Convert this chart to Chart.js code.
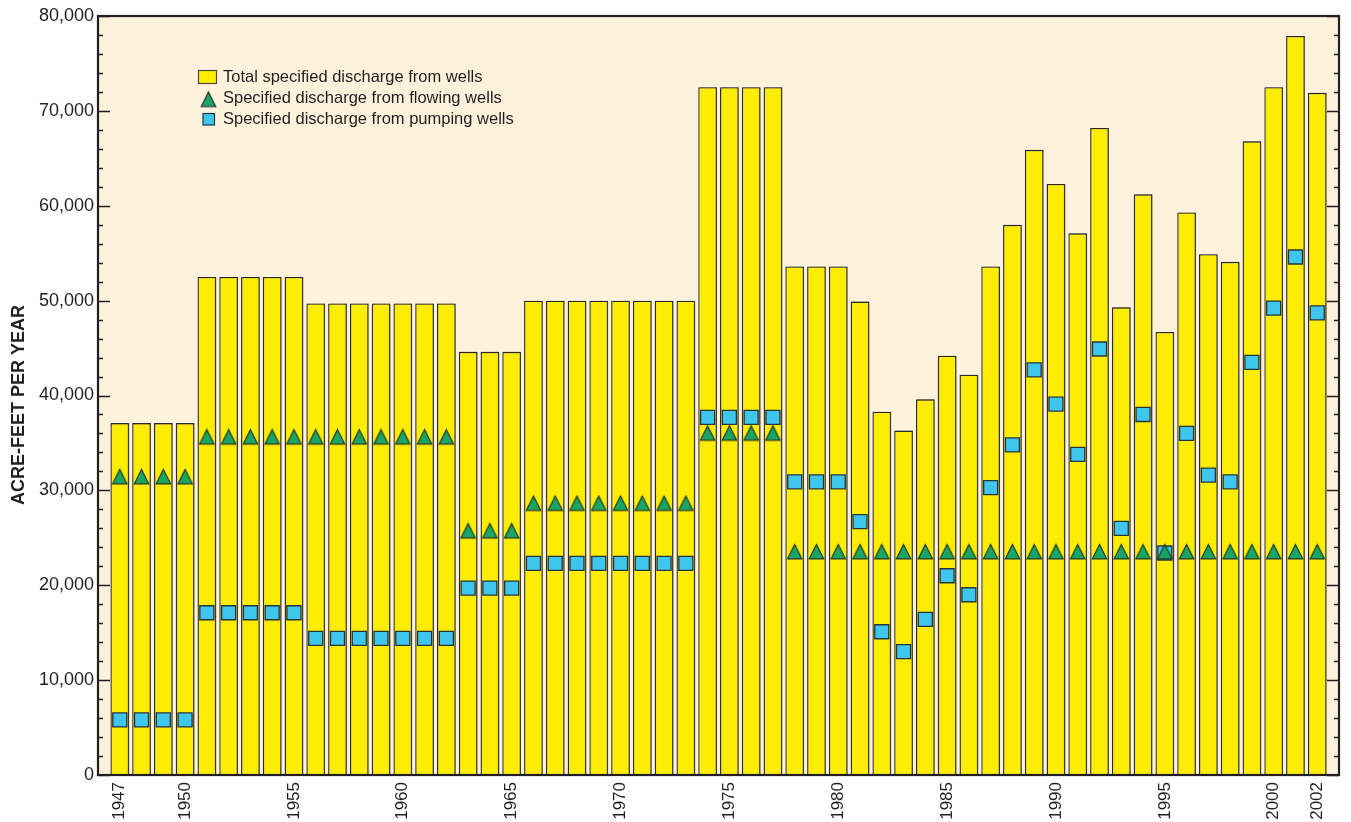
<!DOCTYPE html>
<html>
<head>
<meta charset="utf-8">
<title>Specified discharge from wells, 1947–2002</title>
<script src="https://cdn.jsdelivr.net/npm/chart.js@4.4.1/dist/chart.umd.min.js"></script>
<style>
  html, body { margin: 0; padding: 0; background: #ffffff; }
  #wrap { width: 1351px; height: 822px; position: relative; }
</style>
</head>
<body>
<div id="wrap"><canvas id="chart"></canvas></div>
<script>
// Year of each bar
const years = [
  1947, 1948, 1949, 1950, 1951, 1952, 1953, 1954, 1955, 1956,
  1957, 1958, 1959, 1960, 1961, 1962, 1963, 1964, 1965, 1966,
  1967, 1968, 1969, 1970, 1971, 1972, 1973, 1974, 1975, 1976,
  1977, 1978, 1979, 1980, 1981, 1982, 1983, 1984, 1985, 1986,
  1987, 1988, 1989, 1990, 1991, 1992, 1993, 1994, 1995, 1996,
  1997, 1998, 1999, 2000, 2001, 2002
];

// Total specified discharge from wells (acre-feet per year)
const totalDischarge = [
  37100, 37100, 37100, 37100, 52500, 52500, 52500, 52500, 52500, 49700,
  49700, 49700, 49700, 49700, 49700, 49700, 44600, 44600, 44600, 50000,
  50000, 50000, 50000, 50000, 50000, 50000, 50000, 72500, 72500, 72500,
  72500, 53600, 53600, 53600, 49900, 38300, 36300, 39600, 44200, 42200,
  53600, 58000, 65900, 62300, 57100, 68200, 49300, 61200, 46700, 59300,
  54900, 54100, 66800, 72500, 77900, 71900
];

// Specified discharge from flowing wells
const flowingDischarge = [
  31200, 31200, 31200, 31200, 35400, 35400, 35400, 35400, 35400, 35400,
  35400, 35400, 35400, 35400, 35400, 35400, 25500, 25500, 25500, 28400,
  28400, 28400, 28400, 28400, 28400, 28400, 28400, 35800, 35800, 35800,
  35800, 23300, 23300, 23300, 23300, 23300, 23300, 23300, 23300, 23300,
  23300, 23300, 23300, 23300, 23300, 23300, 23300, 23300, 23300, 23300,
  23300, 23300, 23300, 23300, 23300, 23300
];

// Specified discharge from pumping wells
const pumpingDischarge = [
  5800, 5800, 5800, 5800, 17100, 17100, 17100, 17100, 17100, 14400,
  14400, 14400, 14400, 14400, 14400, 14400, 19700, 19700, 19700, 22300,
  22300, 22300, 22300, 22300, 22300, 22300, 22300, 37700, 37700, 37700,
  37700, 30900, 30900, 30900, 26700, 15100, 13000, 16400, 21000, 19000,
  30300, 34800, 42700, 39100, 33800, 44900, 26000, 38000, 23400, 36000,
  31600, 30900, 43500, 49200, 54600, 48700
];

// Labelled years along the bottom axis
const yearTicks = [1947, 1950, 1955, 1960, 1965, 1970, 1975, 1980, 1985, 1990, 1995, 2000, 2002];

// Value axis
const yMin = 0;
const yMax = 80000;
const yMajorStep = 10000;
const yMinorStep = 2000;

const FONT = "'Liberation Sans', Arial, Helvetica, sans-serif";
const INK = '#231f20';
const YELLOW = '#FFED00';
const CYAN = '#3EC6EE';
const GREEN = '#1AA564';
const CREAM = '#FEF2DC';

// Triangle marker image; its centroid sits at the image centre
function makeTriangle() {
  const c = document.createElement('canvas');
  c.width = 17; c.height = 22;
  const g = c.getContext('2d');
  const top = 1.4, h = 14.4, half = 7.2, cx = 8.5;
  g.beginPath();
  g.moveTo(cx, top);
  g.lineTo(cx + half, top + h);
  g.lineTo(cx - half, top + h);
  g.closePath();
  g.fillStyle = GREEN;
  g.fill();
  g.lineWidth = 1.2;
  g.lineJoin = 'miter';
  g.strokeStyle = '#22352b';
  g.stroke();
  return c;
}
const triangleMark = makeTriangle();

const toPoints = vals => years.map((yr, i) => ({ x: yr, y: vals[i] }));

// Cream plot background
const plotBackground = {
  id: 'plotBackground',
  beforeDraw(chart) {
    const { ctx, chartArea: a } = chart;
    ctx.save();
    ctx.fillStyle = CREAM;
    ctx.fillRect(a.left, a.top, a.right - a.left, a.bottom - a.top);
    ctx.restore();
  }
};

// Thin grey edge to the right of each bar
const barShade = {
  id: 'barShade',
  beforeDatasetDraw(chart, args) {
    if (args.index !== 0) return;
    const ctx = chart.ctx;
    ctx.save();
    ctx.shadowColor = 'rgba(70,70,70,0.55)';
    ctx.shadowOffsetX = 1.6;
    ctx.shadowOffsetY = 0;
    ctx.shadowBlur = 0;
  },
  afterDatasetDraw(chart, args) {
    if (args.index !== 0) return;
    chart.ctx.restore();
  }
};

// Frame, inward ticks on both value axes, axis title and key
const frameAndKey = {
  id: 'frameAndKey',
  afterDraw(chart) {
    const { ctx, chartArea: a, scales: { y } } = chart;
    ctx.save();
    ctx.strokeStyle = INK;
    ctx.lineWidth = 1.4;
    for (let v = yMin; v <= yMax; v += yMinorStep) {
      const py = Math.round(y.getPixelForValue(v)) + 0.5;
      const len = v % yMajorStep === 0 ? 12 : 5;
      ctx.beginPath();
      ctx.moveTo(a.left, py); ctx.lineTo(a.left + len, py);
      ctx.moveTo(a.right, py); ctx.lineTo(a.right - len, py);
      ctx.stroke();
    }
    ctx.lineWidth = 2.2;
    ctx.strokeRect(a.left, a.top, a.right - a.left, a.bottom - a.top);

    // value-axis title
    ctx.save();
    ctx.translate(19.5, 405);
    ctx.rotate(-Math.PI / 2);
    ctx.font = `bold 18px ${FONT}`;
    ctx.fillStyle = INK;
    ctx.textAlign = 'center';
    ctx.textBaseline = 'middle';
    ctx.fillText('ACRE-FEET PER YEAR', 0, 0);
    ctx.restore();

    // key
    const ds = chart.data.datasets;
    ctx.font = `16.5px ${FONT}`;
    ctx.textAlign = 'left';
    ctx.textBaseline = 'middle';

    ctx.fillStyle = YELLOW;
    ctx.fillRect(198.5, 70.5, 18, 13);
    ctx.strokeStyle = '#4a4a4a';
    ctx.lineWidth = 1.2;
    ctx.strokeRect(198.5, 70.5, 18, 13);
    ctx.fillStyle = INK;
    ctx.fillText(ds[0].label, 223, 77.5);

    ctx.drawImage(triangleMark, 208.5 - triangleMark.width / 2, 90.6);
    ctx.fillStyle = INK;
    ctx.fillText(ds[2].label, 223, 98.5);

    ctx.fillStyle = CYAN;
    ctx.fillRect(203, 113.5, 11.5, 11.5);
    ctx.strokeStyle = '#27343c';
    ctx.lineWidth = 1.2;
    ctx.strokeRect(203, 113.5, 11.5, 11.5);
    ctx.fillStyle = INK;
    ctx.fillText(ds[1].label, 223, 119.5);
    ctx.restore();
  }
};

new Chart(document.getElementById('chart'), {
  type: 'bar',
  data: {
    datasets: [
      {
        type: 'bar',
        label: 'Total specified discharge from wells',
        data: toPoints(totalDischarge),
        backgroundColor: YELLOW,
        borderColor: '#2a2a2a',
        borderWidth: 1.4,
        categoryPercentage: 1,
        barPercentage: 0.86,
        order: 3
      },
      {
        type: 'line',
        label: 'Specified discharge from pumping wells',
        data: toPoints(pumpingDischarge),
        showLine: false,
        pointStyle: 'rect',
        pointRadius: 9.9,
        pointBackgroundColor: CYAN,
        pointBorderColor: '#27343c',
        pointBorderWidth: 1.3,
        order: 2
      },
      {
        type: 'line',
        label: 'Specified discharge from flowing wells',
        data: toPoints(flowingDischarge),
        showLine: false,
        pointStyle: triangleMark,
        pointRadius: 9,
        order: 1
      }
    ]
  },
  options: {
    responsive: true,
    maintainAspectRatio: false,
    animation: false,
    events: [],
    layout: { padding: { top: 16, right: 12, left: 0, bottom: 0 } },
    plugins: {
      legend: { display: false },
      tooltip: { enabled: false }
    },
    scales: {
      x: {
        type: 'linear',
        min: 1946,
        max: 2003,
        offset: false,
        grid: { display: false, drawTicks: false },
        border: { display: false },
        afterBuildTicks: s => { s.ticks = yearTicks.map(v => ({ value: v })); },
        afterFit: s => { s.height = 47; },
        ticks: {
          autoSkip: false,
          minRotation: 90,
          maxRotation: 90,
          padding: 7,
          color: INK,
          font: { family: FONT, size: 17 },
          callback: v => String(v)
        }
      },
      y: {
        min: yMin,
        max: yMax,
        grid: { display: false, drawTicks: false },
        border: { display: false },
        afterFit: s => { s.width = 98; },
        ticks: {
          stepSize: yMajorStep,
          padding: 4,
          color: INK,
          font: { family: FONT, size: 18 },
          callback: v => v.toLocaleString('en-US')
        }
      }
    }
  },
  plugins: [plotBackground, barShade, frameAndKey]
});
</script>
</body>
</html>
